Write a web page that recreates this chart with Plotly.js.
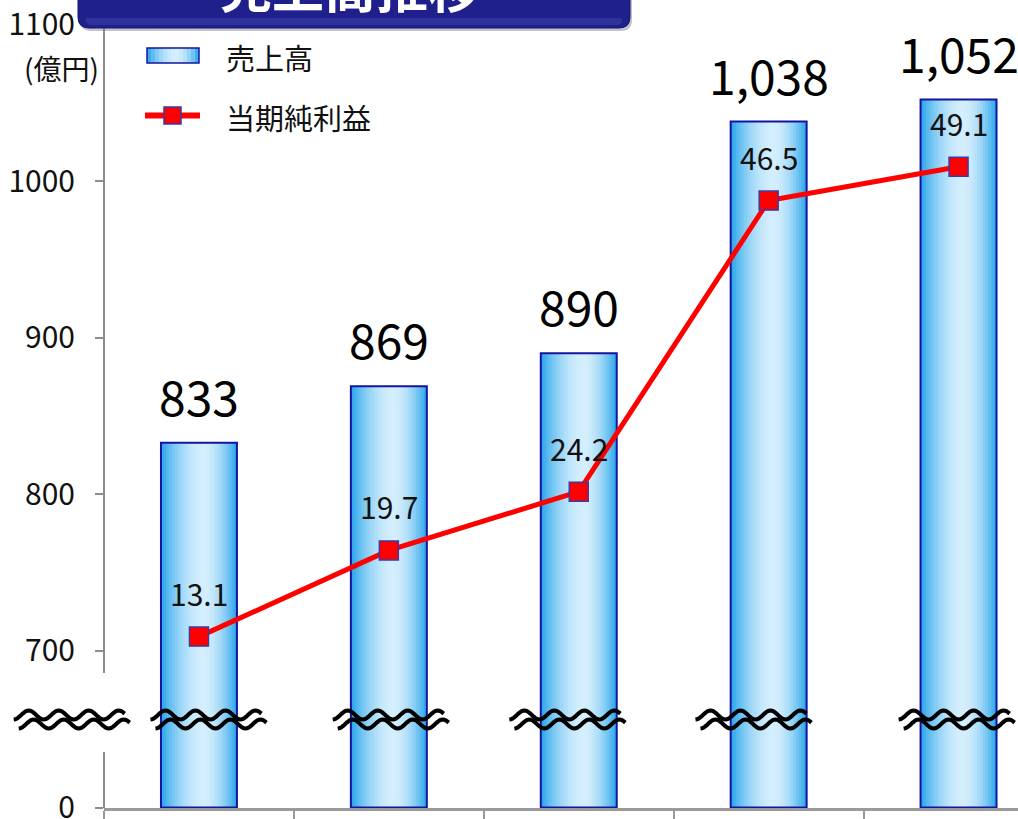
<!DOCTYPE html>
<html><head><meta charset="utf-8">
<script src="https://cdn.plot.ly/plotly-3.0.1.min.js"></script>
<style>html,body{margin:0;padding:0;background:#fff}</style>
</head><body><div id="chart" style="width:1018px;height:819px"></div>
<script>
// ---- data ----
const periods = [0, 1, 2, 3, 4];
const sales = [833, 869, 890, 1038, 1052];
const profit = [13.1, 19.7, 24.2, 46.5, 49.1];
const yTickValues = [0, 700, 800, 900, 1000, 1100];
const yTickLabels = ['0', '700', '800', '900', '1000', '1100'];
const salesName = '売上高';
const profitName = '当期純利益';
const unitLabel = '(億円)';
const chartTitle = '売上高推移';

// broken axis: 0..700 compressed into one step
function disp(v){ return v <= 700 ? v / 7 : v - 600; }

const FONT = '"Noto Sans CJK JP", "Noto Sans", sans-serif';
const W = 1018, H = 819, L = 104, T = 24, B = 11;
const plotW = W - L, plotH = H - T - B;
const yPad = 0.25;
const yMin = -yPad, yMax = disp(1100) + yPad;
const pxPerY = plotH / (yMax - yMin);
const pxPerX = 189.9;
const xMin = -0.5, xMax = xMin + plotW / pxPerX;
const BAR_W = 0.4;

const edgeC = [38, 164, 234], lightC = [212, 238, 253];
function gradColor(t){
  const c = 0.56;
  const d = t < c ? (c - t) / c : (t - c) / (1 - c);
  const f = 1 - Math.pow(d, 1.8);
  const m = edgeC.map((e, k) => Math.round(e + (lightC[k] - e) * f));
  return 'rgb(' + m.join(',') + ')';
}

const traces = [];
const N = 28;
for (let i = 0; i < N; i++) {
  const off = -BAR_W / 2 + i * BAR_W / N;
  const w = Math.min(BAR_W / N * 1.5, BAR_W / 2 - off);
  traces.push({
    type: 'bar', x: periods, y: sales.map(disp), offset: off, width: w,
    marker: { color: gradColor((i + 0.5) / N), line: { width: 0 } },
    hoverinfo: 'skip', showlegend: false
  });
}
traces.push({
  type: 'bar', name: salesName, x: periods, y: sales.map(disp), offset: -BAR_W / 2, width: BAR_W,
  marker: { color: 'rgba(0,0,0,0)', line: { color: '#1414a0', width: 2 } },
  showlegend: false
});
traces.push({
  type: 'scatter', name: profitName, x: periods, y: profit, yaxis: 'y2',
  mode: 'lines+markers',
  line: { color: '#ff0000', width: 5 },
  marker: { symbol: 'square', size: 19, color: '#ff0000', line: { color: '#3a3aa8', width: 1.5 } },
  showlegend: false
});

// helpers for decorations
const px2px = px => (px - L) / plotW;           // pixel x -> paper x
const py2py = py => (H - B - py) / plotH;       // pixel y -> paper y
const dx2px = x => (x - xMin) / (xMax - xMin);  // data x -> paper x

const shapes = [];
// y axis line, broken
[[H - B, 752], [673, T - 2]].forEach(([a, b]) => shapes.push({
  type: 'line', xref: 'paper', yref: 'paper', x0: 0, x1: 0, y0: py2py(a), y1: py2py(b),
  line: { color: '#8c8c8c', width: 2 }, layer: 'above'
}));

// wavy break marks (paper coords so they can extend past the axis)
const breakCenters = [-0.67, 0.05, 1.01, 1.94, 2.92, 3.99];
const breakPy = 719.5;
function wavePath(cx, dxStart, dxEnd, dyPx){
  let s = '';
  const A = 4.5, P = 30;
  const cpx = L + dx2px(cx) * plotW;
  for (let u = dxStart; u <= dxEnd + 0.01; u += 1.5) {
    const sy = breakPy + dyPx + A * Math.cos(2 * Math.PI * (u - dxStart) / P);
    s += (s ? ' L ' : 'M ') + px2px(cpx + u).toFixed(5) + ',' + py2py(sy).toFixed(5);
  }
  return s;
}
breakCenters.forEach(cx => {
  shapes.push({ type: 'path', xref: 'paper', yref: 'paper', path: wavePath(cx, -58, 54, -4.5),
    line: { color: '#000', width: 4 }, layer: 'above' });
  shapes.push({ type: 'path', xref: 'paper', yref: 'paper', path: wavePath(cx, -53, 59, 4.5),
    line: { color: '#000', width: 4 }, layer: 'above' });
});

// title box
function roundBox(x0, x1, yTop, yBot, r){
  const X0 = px2px(x0), X1 = px2px(x1), YT = py2py(yTop), YB = py2py(yBot);
  const rx = r / plotW, ry = r / plotH;
  return `M ${X0},${YT} L ${X0},${YB + ry} Q ${X0},${YB} ${X0 + rx},${YB} L ${X1 - rx},${YB} Q ${X1},${YB} ${X1},${YB + ry} L ${X1},${YT} Z`;
}
shapes.push({ type: 'path', xref: 'paper', yref: 'paper', path: roundBox(80, 632, -20, 31, 11),
  fillcolor: 'rgba(120,120,140,0.45)', line: { width: 0 }, layer: 'above' });
shapes.push({ type: 'path', xref: 'paper', yref: 'paper', path: roundBox(78, 630, -20, 28, 11),
  fillcolor: '#20208c', line: { color: '#15156e', width: 1 }, layer: 'above' });
shapes.push({ type: 'path', xref: 'paper', yref: 'paper', path: roundBox(86, 622, 18, 25, 6),
  fillcolor: 'rgba(70,70,180,0.45)', line: { width: 0 }, layer: 'above' });

// legend: bar icon
const LN = 13;
for (let i = 0; i < LN; i++) {
  const a = 147 + i * 52 / LN, b = 147 + (i + 1.3) * 52 / LN;
  shapes.push({ type: 'rect', xref: 'paper', yref: 'paper', x0: px2px(a), x1: px2px(Math.min(b, 199)),
    y0: py2py(63), y1: py2py(48), fillcolor: gradColor((i + 0.5) / LN), line: { width: 0 }, layer: 'above' });
}
shapes.push({ type: 'rect', xref: 'paper', yref: 'paper', x0: px2px(147), x1: px2px(199),
  y0: py2py(63), y1: py2py(48), line: { color: '#1414a0', width: 1.5 }, layer: 'above' });
// legend: line icon
shapes.push({ type: 'line', xref: 'paper', yref: 'paper', x0: px2px(145), x1: px2px(200),
  y0: py2py(115.5), y1: py2py(115.5), line: { color: '#ff0000', width: 6 }, layer: 'above' });
shapes.push({ type: 'rect', xref: 'paper', yref: 'paper', x0: px2px(164), x1: px2px(181),
  y0: py2py(124), y1: py2py(107), fillcolor: '#ff0000', line: { color: '#3a3aa8', width: 1.5 }, layer: 'above' });

const annotations = [];
sales.forEach((v, i) => annotations.push({
  x: periods[i], y: disp(v), xref: 'x', yref: 'y', text: v.toLocaleString('en-US'),
  showarrow: false, yanchor: 'bottom', yshift: 11,
  font: { family: FONT, size: 48, color: '#000' }
}));
profit.forEach((v, i) => annotations.push({
  x: periods[i], y: v, xref: 'x', yref: 'y2', text: v.toFixed(1),
  showarrow: false, yanchor: 'bottom', yshift: 20,
  font: { family: FONT, size: 30, color: '#111' }
}));
annotations.push({ xref: 'paper', yref: 'paper', x: px2px(61), y: py2py(68), text: unitLabel,
  showarrow: false, xanchor: 'center', yanchor: 'middle', font: { family: FONT, size: 28, color: '#111' } });
annotations.push({ xref: 'paper', yref: 'paper', x: px2px(224), y: py2py(57), text: salesName,
  showarrow: false, xanchor: 'left', yanchor: 'middle', font: { family: FONT, size: 29, color: '#111' } });
annotations.push({ xref: 'paper', yref: 'paper', x: px2px(224), y: py2py(117), text: profitName,
  showarrow: false, xanchor: 'left', yanchor: 'middle', font: { family: FONT, size: 29, color: '#111' } });
annotations.push({ xref: 'paper', yref: 'paper', x: px2px(350), y: py2py(-14), text: '<b>' + chartTitle + '</b>',
  showarrow: false, xanchor: 'center', yanchor: 'middle', font: { family: FONT, size: 52, color: '#ffffff' } });

const layout = {
  width: W, height: H,
  margin: { l: L, r: 0, t: T, b: B, pad: 0 },
  paper_bgcolor: '#ffffff', plot_bgcolor: '#ffffff',
  barmode: 'overlay', showlegend: false,
  font: { family: FONT, color: '#111' },
  xaxis: {
    range: [xMin, xMax], tickvals: [-0.5, 0.5, 1.5, 2.5, 3.5], showticklabels: false,
    ticks: 'outside', ticklen: 9, tickwidth: 2, tickcolor: '#999',
    showline: true, linecolor: '#9a9a9a', linewidth: 2.5, showgrid: false, zeroline: false, fixedrange: true
  },
  yaxis: {
    range: [yMin, yMax], tickvals: yTickValues.map(disp), ticktext: yTickLabels,
    ticks: 'outside', ticklen: 8, tickwidth: 2, tickcolor: '#8c8c8c',
    ticklabelstandoff: 14, ticklabeloverflow: 'allow',
    tickfont: { family: FONT, size: 30, color: '#111' },
    showline: false, showgrid: false, zeroline: false, fixedrange: true
  },
  yaxis2: { overlaying: 'y', range: [yMin * 60 / 500, yMax * 60 / 500], visible: false, showgrid: false, zeroline: false },
  shapes: shapes, annotations: annotations
};

Plotly.newPlot('chart', traces, layout, { staticPlot: true, displayModeBar: false });
</script>
</body></html>
